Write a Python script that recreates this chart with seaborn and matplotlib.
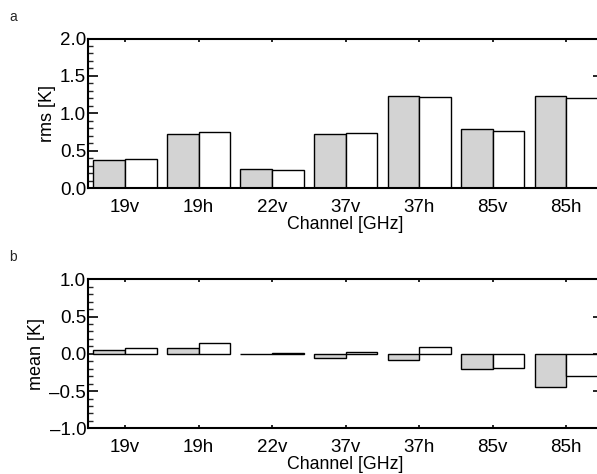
import pandas as pd
import matplotlib.pyplot as plt
import seaborn as sns
from matplotlib.ticker import MultipleLocator

# Channels and values
channels = ["19v", "19h", "22v", "37v", "37h", "85v", "85h"]
series = ["gray", "white"]
rms_gray = [0.37, 0.72, 0.26, 0.72, 1.23, 0.79, 1.23]
rms_white = [0.39, 0.75, 0.24, 0.74, 1.22, 0.76, 1.20]
mean_gray = [0.05, 0.08, 0.00, -0.05, -0.08, -0.20, -0.45]
mean_white = [0.08, 0.14, 0.005, 0.02, 0.085, -0.19, -0.30]


def long_table(gray, white):
    return pd.DataFrame({
        "channel": channels * 2,
        "series": [series[0]] * len(channels) + [series[1]] * len(channels),
        "value": gray + white,
    })


sns.set_theme(style="white")
plt.rcParams["font.family"] = ["Liberation Sans", "DejaVu Sans"]
plt.rcParams["font.size"] = 13

fig = plt.figure(figsize=(5.97, 4.74), dpi=100)
W, H = 597, 474
left = 88.25 / W
width = (603 - 88.25) / W
ax_a = fig.add_axes([left, 1 - 188.1 / H, width, 149.6 / H])
ax_b = fig.add_axes([left, 1 - 428.3 / H, width, 149.0 / H])

panels = [
    (ax_a, long_table(rms_gray, rms_white), "rms [K]", (0, 2.0)),
    (ax_b, long_table(mean_gray, mean_white), "mean [K]", (-1.0, 1.0)),
]

for ax, df, ylab, ylim in panels:
    sns.barplot(data=df, x="channel", y="value", hue="series",
                palette=["#d3d3d3", "white"], edgecolor="black",
                linewidth=1.0, width=0.86, legend=False, ax=ax)
    ax.set_xlim(-0.5, 6.5)
    ax.set_ylim(*ylim)
    ax.yaxis.set_major_locator(MultipleLocator(0.5))
    ax.yaxis.set_minor_locator(MultipleLocator(0.1))
    ax.yaxis.set_major_formatter(plt.FuncFormatter(
        lambda v, p: f"{v:.1f}".replace("-", "\u2013")))
    ax.tick_params(axis="y", which="major", direction="in", length=7.5,
                   width=1.2, left=True, right=True, pad=1.5, labelsize=13.5,
                   colors="black")
    ax.tick_params(axis="y", which="minor", direction="in", length=3.8,
                   width=1.0, left=True, right=True)
    ax.tick_params(axis="x", which="major", direction="in", length=2.5,
                   width=1.2, bottom=True, top=True, pad=8, labelsize=13.5,
                   colors="black")
    for s in ax.spines.values():
        s.set_linewidth(1.5)
        s.set_color("black")
    ax.set_xlabel("Channel [GHz]", fontsize=12.8, labelpad=0, color="black")
    ax.set_ylabel(ylab, fontsize=13, labelpad=3, color="black")

fig.text(13 / W, 1 - 17 / H, "a", fontsize=10, ha="center", va="center")
fig.text(13 / W, 1 - 257 / H, "b", fontsize=10, ha="center", va="center")

fig.savefig("out.png", dpi=100)
